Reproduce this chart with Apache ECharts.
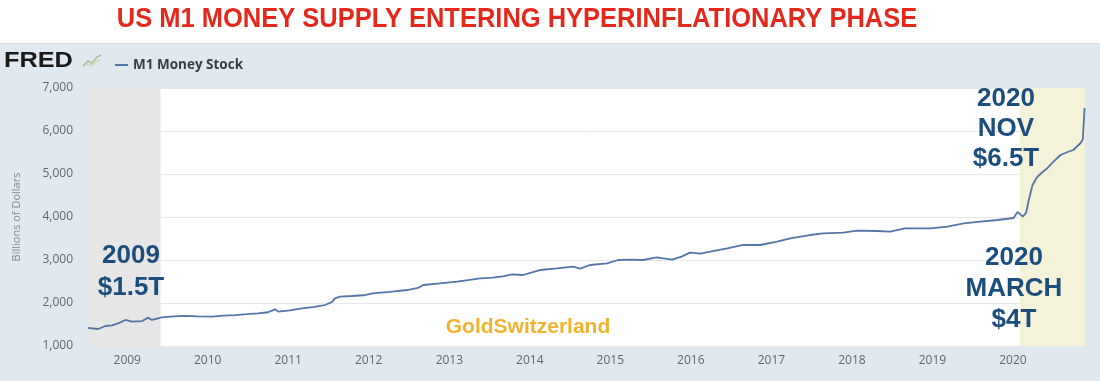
<!DOCTYPE html>
<html>
<head>
<meta charset="utf-8">
<script src="https://cdn.jsdelivr.net/npm/echarts@6/dist/echarts.min.js"></script>
<style>html,body{margin:0;padding:0;background:#fff}#c{width:1100px;height:381px}</style>
</head>
<body>
<div id="c"></div>
<script>
// ---- data (M1 Money Stock, billions of dollars) ----
const dates = [
 '2008-07-07','2008-07-16','2008-08-22','2008-09-24','2008-10-24','2008-11-21','2008-12-24',
 '2009-01-23','2009-03-10','2009-04-05','2009-04-23','2009-06-07','2009-07-28','2009-09-20','2009-11-18',
 '2010-01-21','2010-03-14','2010-05-04','2010-06-28','2010-08-17','2010-10-01','2010-11-03','2010-11-17',
 '2011-01-09','2011-03-04','2011-04-23','2011-06-16','2011-07-18','2011-08-01','2011-08-24','2011-10-17','2011-12-09',
 '2012-01-20','2012-04-06','2012-06-23','2012-08-12','2012-09-04','2012-11-20',
 '2013-02-05','2013-03-27','2013-05-20','2013-07-18','2013-09-01','2013-10-12','2013-12-01',
 '2014-01-11','2014-02-16','2014-05-05','2014-07-16','2014-08-17','2014-10-01','2014-12-17',
 '2015-02-06','2015-04-01','2015-05-30','2015-07-31','2015-10-08','2015-11-20','2015-12-28',
 '2016-02-14','2016-03-29','2016-06-14','2016-08-26','2016-11-10',
 '2017-01-26','2017-03-28','2017-06-24','2017-08-24','2017-11-22',
 '2018-01-26','2018-04-25','2018-06-23','2018-08-30','2018-12-23',
 '2019-03-10','2019-05-23','2019-08-06','2019-10-23',
 '2020-01-04','2020-01-22','2020-02-15','2020-03-01','2020-03-11','2020-03-30','2020-04-20',
 '2020-05-15','2020-06-06','2020-07-02','2020-08-04','2020-09-05','2020-10-01','2020-11-03','2020-11-13','2020-11-21'
];
const values = [
 1420,1410,1395,1465,1480,1527,1605,
 1565,1580,1660,1605,1667,1690,1700,1690,
 1683,1705,1720,1740,1760,1785,1853,1800,
 1830,1876,1905,1953,2020,2108,2147,2163,2180,
 2225,2260,2302,2350,2419,2458,
 2495,2530,2574,2589,2620,2667,2651,
 2710,2767,2806,2844,2800,2884,2923,
 3000,3010,3000,3063,3010,3080,3170,
 3150,3193,3272,3349,3349,
 3426,3505,3581,3620,3635,
 3682,3674,3658,3737,3737,
 3775,3853,3891,3930,
 3977,4116,4007,4100,4349,4744,4930,
 5047,5140,5280,5442,5512,5558,5721,5800,6535
];
const yearLabels = ['2009','2010','2011','2012','2013','2014','2015','2016','2017','2018','2019','2020'];
const recessions = [['2008-07-07','2009-06-01'],['2020-02-01','2020-11-23']];
const axisRange = ['2008-07-07','2020-11-23'];
const seriesName = 'M1 Money Stock';

function ts(s) { const p = s.split('-').map(Number); return +new Date(p[0], p[1] - 1, p[2]); }

const chart = echarts.init(document.getElementById('c'));
const yearTs = yearLabels.map(y => +new Date(+y, 0, 1));
const annFont = "bold 26px 'Liberation Sans',Arial,sans-serif";
chart.setOption({
  animation: false,
  backgroundColor: '#ffffff',
  graphic: [
    { type: 'rect', z: -10, shape: { x: 0, y: 44, width: 1100, height: 337 }, style: { fill: '#e1e9f0' }, silent: true },
    { type: 'rect', z: -10, shape: { x: 0, y: 43, width: 1100, height: 1 }, style: { fill: '#d6dde3' }, silent: true },
    { type: 'text', x: 517, y: 19, scaleX: 0.91, z: 100, style: { text: 'US M1 MONEY SUPPLY ENTERING HYPERINFLATIONARY PHASE', align: 'center', verticalAlign: 'middle', fill: '#e5281c', font: "bold 28px 'Liberation Sans',Arial,sans-serif" } },
    { type: 'text', x: 4, y: 50, scaleX: 1.15, z: 100, style: { text: 'FRED', fill: '#1a1a1a', font: "900 22px 'Liberation Sans',Arial,sans-serif" } },
    { type: 'polyline', z: 100, shape: { points: [[83,66],[88,61],[92,63],[97,57],[101,55]] }, style: { stroke: '#a9c08f', lineWidth: 1.5, fill: null } },
    { type: 'polyline', z: 100, shape: { points: [[83,67],[88,64],[92,66],[97,61],[101,60]] }, style: { stroke: '#c9d6bb', lineWidth: 1.2, fill: null } },
    // annotations
    { type: 'text', z: 100, x: 131, y: 272, style: { text: '2009\n$1.5T', align: 'center', verticalAlign: 'middle', lineHeight: 32, fill: '#1b4d7d', font: annFont } },
    { type: 'text', z: 100, x: 1006, y: 84, style: { text: '2020\nNOV\n$6.5T', align: 'center', verticalAlign: 'top', lineHeight: 30, fill: '#1b4d7d', font: annFont } },
    { type: 'text', z: 100, x: 1014, y: 242, style: { text: '2020\nMARCH\n$4T', align: 'center', verticalAlign: 'top', lineHeight: 31, fill: '#1b4d7d', font: annFont } },
    { type: 'text', z: 100, x: 528, y: 327, style: { text: 'GoldSwitzerland', align: 'center', verticalAlign: 'middle', fill: '#f1b22e', font: "bold 21px 'Liberation Sans',Arial,sans-serif" } }
  ],
  legend: {
    left: 110, top: 53, itemWidth: 13, itemHeight: 2, icon: 'rect', itemGap: 6,
    textStyle: { fontFamily: "'Open Sans',sans-serif", fontWeight: 'bold', fontSize: 13.5, color: '#3c3c3c' },
    data: [seriesName]
  },
  grid: { left: 88, right: 15, top: 88, bottom: 35, show: true, backgroundColor: '#ffffff', borderWidth: 0 },
  xAxis: {
    type: 'value',
    min: ts(axisRange[0]), max: ts(axisRange[1]),
    axisLine: { show: false }, axisTick: { show: false },
    splitLine: { show: false },
    axisLabel: {
      customValues: yearTs,
      formatter: v => String(new Date(v).getFullYear()),
      color: '#666666', fontSize: 12, fontFamily: "'Open Sans',sans-serif", margin: 9
    }
  },
  yAxis: {
    type: 'value', min: 1000, max: 7000, interval: 1000,
    name: 'Billions of Dollars', nameLocation: 'middle', nameGap: 66, nameRotate: 90,
    nameTextStyle: { color: '#8a8a8a', fontSize: 11, fontFamily: "'Open Sans',sans-serif" },
    axisLine: { show: false }, axisTick: { show: false },
    splitLine: { lineStyle: { color: '#e8e8e8', width: 1 } },
    axisLabel: {
      formatter: v => v.toLocaleString('en-US'),
      color: '#666666', fontSize: 12, fontFamily: "'Open Sans',sans-serif", margin: 15
    }
  },
  series: [{
    name: seriesName, type: 'line', showSymbol: false, symbol: 'none',
    lineStyle: { color: '#5475a8', width: 1.8 }, itemStyle: { color: '#5475a8' },
    data: dates.map((d, i) => [ts(d), values[i]]),
    markArea: {
      silent: true,
      data: [
        [{ xAxis: ts(recessions[0][0]), itemStyle: { color: '#e6e6e6' } }, { xAxis: ts(recessions[0][1]) }],
        [{ xAxis: ts(recessions[1][0]), itemStyle: { color: '#f5f2da' } }, { xAxis: ts(recessions[1][1]) }]
      ]
    }
  }]
});
</script>
</body>
</html>
